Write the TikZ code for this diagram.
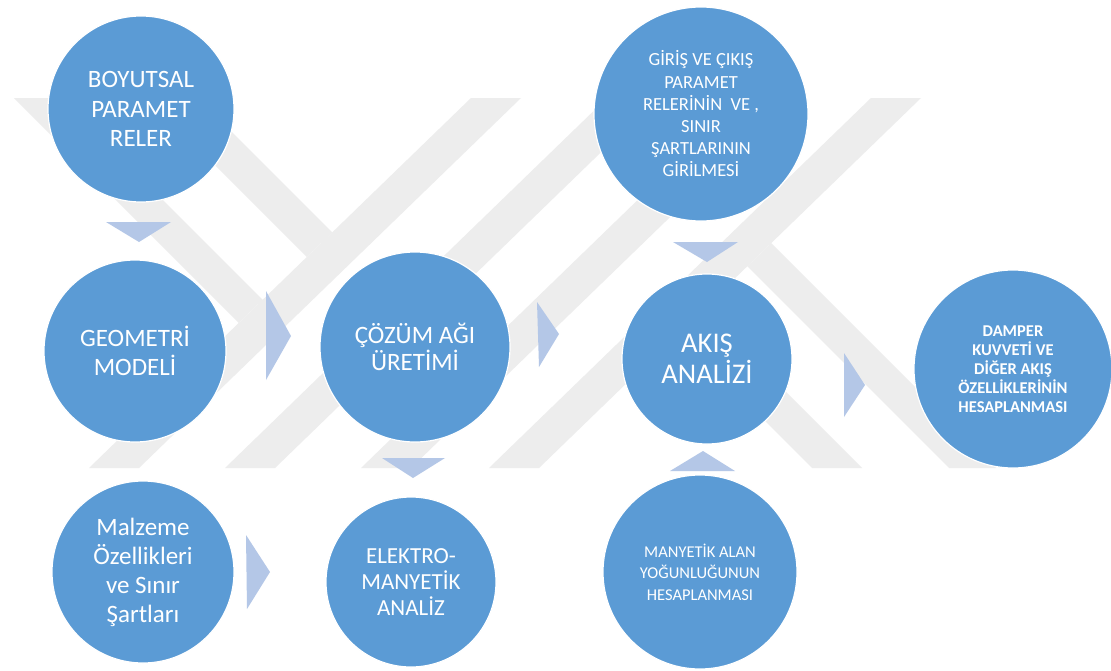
\documentclass[tikz,border=0pt]{standalone}
\usepackage{fontspec}
\setmainfont{Carlito}
\definecolor{bubblefill}{HTML}{5B9BD5}
\definecolor{pointerfill}{HTML}{B4C7E7}
\definecolor{markgray}{HTML}{EDEDED}
\begin{document}
\begin{tikzpicture}[x=1pt,y=-1pt,
  bubble/.style={circle, fill=bubblefill, draw=white, line width=1.2pt,
    inner sep=0pt, text=white, align=center},
  pointer/.style={fill=pointerfill, draw=none},
  emblemstripe/.style={fill=markgray, draw=none}]
% page
\fill[white] (0,0) rectangle (1111,670);
\useasboundingbox (0,0) rectangle (1111,670);

% faint striped emblem in the background
\fill[emblemstripe] (14,98) -- (61,98) -- (262.7,299.7) -- (238.8,322.8) -- cycle;
\fill[emblemstripe] (148,98) -- (198,98) -- (332.3,232.3) -- (306.9,256.9) -- cycle;
\foreach \b in {89,225,361,489}
  \fill[emblemstripe] (\b,468) -- (\b+50,468) -- (\b+432,98) -- (\b+382,98) -- cycle;
\fill[emblemstripe] (996,468) -- (949,468) -- (747.3,266.3) -- (771.2,243.2) -- cycle;
\fill[emblemstripe] (862,468) -- (812,468) -- (677.7,333.7) -- (703.1,309.1) -- cycle;

% process steps
\node[bubble, minimum size=186pt, font=\fontsize{25pt}{29.5pt}\selectfont]
  (boyut) at (141,109) {BOYUTSAL\\PARAMET\\RELER};
\node[bubble, minimum size=182pt, font=\fontsize{25pt}{29.5pt}\selectfont]
  (geo) at (135,351) {GEOMETRİ\\MODELİ};
\node[bubble, minimum size=182pt, font=\fontsize{25pt}{29pt}\selectfont]
  (malz) at (143,572) {Malzeme\\Özellikleri\\ve Sınır\\Şartları};
\node[bubble, minimum size=190pt, font=\fontsize{25pt}{27pt}\selectfont]
  (mesh) at (415,347) {ÇÖZÜM AĞI\\ÜRETİMİ};
\node[bubble, minimum size=170pt, font=\fontsize{23pt}{26pt}\selectfont]
  (em) at (411,582) {ELEKTRO-\\MANYETİK\\ANALİZ};
\node[bubble, minimum size=214pt, font=\fontsize{18.5pt}{22.2pt}\selectfont]
  (giris) at (701,114) {GİRİŞ VE ÇIKIŞ\\PARAMET\\RELERİNİN~ VE ,\\SINIR\\ŞARTLARININ\\GİRİLMESİ};
\node[bubble, minimum size=170pt, font=\fontsize{28.5pt}{31pt}\selectfont]
  (akis) at (707,359) {AKIŞ\\ANALİZİ};
\node[bubble, minimum size=194pt, font=\fontsize{16.5pt}{21.5pt}\selectfont]
  (manyetik) at (700,572) {MANYETİK ALAN\\YOĞUNLUĞUNUN\\HESAPLANMASI};
\node[bubble, minimum size=198pt, font=\fontsize{16.5pt}{19pt}\selectfont\bfseries]
  (damper) at (1013,369) {DAMPER\\KUVVETİ VE\\DİĞER AKIŞ\\ÖZELLİKLERİNİN\\HESAPLANMASI};

% pointers between steps
\fill[pointer] (106,222) -- (171,222) -- (139,242) -- cycle;   % boyut -> geo
\fill[pointer] (266,291) -- (266,380) -- (291,336) -- cycle;   % geo -> mesh
\fill[pointer] (537,302) -- (539,367) -- (559,334) -- cycle;   % mesh -> akis
\fill[pointer] (673,242) -- (738,242) -- (707,262) -- cycle;   % giris -> akis
\fill[pointer] (844,353) -- (844,417) -- (865,385) -- cycle;   % akis -> damper
\fill[pointer] (382,458) -- (445,458) -- (413,478) -- cycle;   % mesh -> em
\fill[pointer] (246,535) -- (247,609) -- (270,572) -- cycle;   % malz -> em
\fill[pointer] (670,471) -- (735,471) -- (703,451) -- cycle;   % manyetik -> akis
\end{tikzpicture}
\end{document}
